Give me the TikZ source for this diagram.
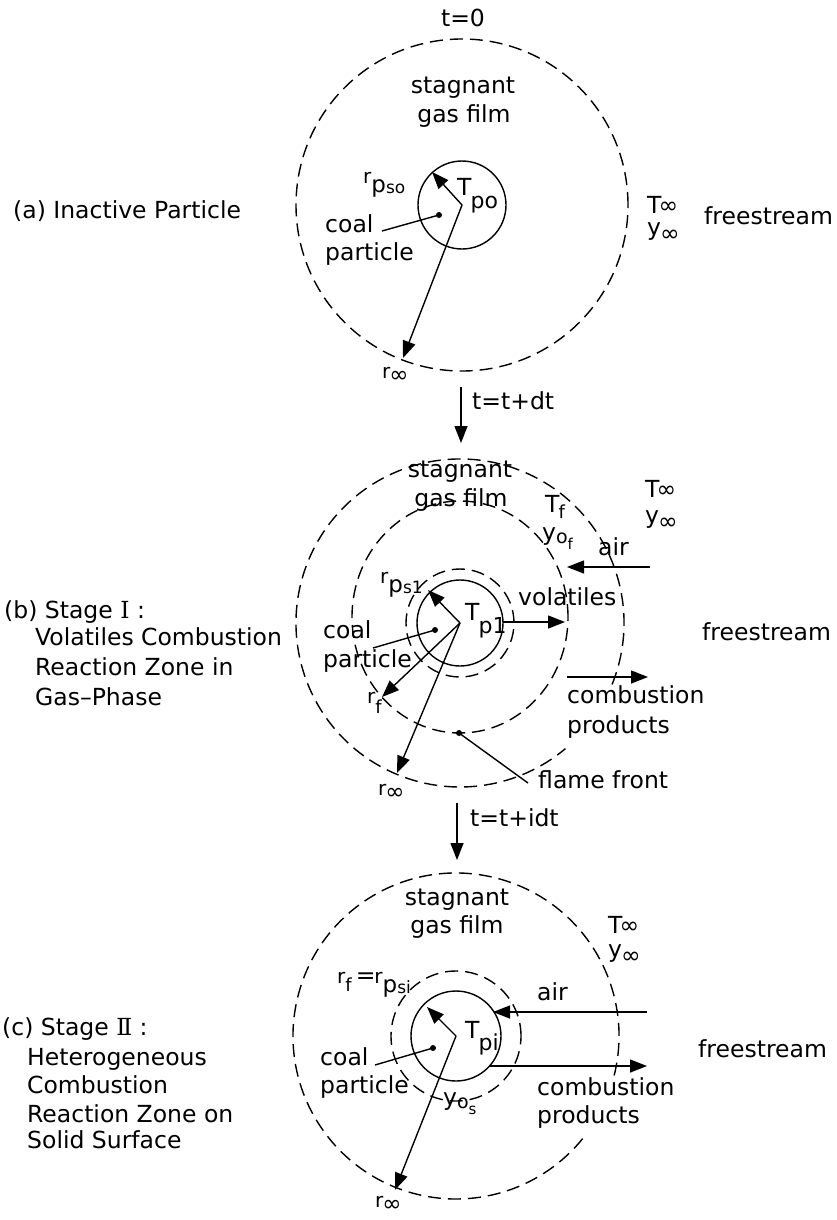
\documentclass[tikz,border=0pt]{standalone}
\usepackage{fontspec}
\setmainfont{DejaVu Sans}
\newfontfamily\romnum{DejaVu Serif}
\usetikzlibrary{arrows.meta,calc}

\newcommand\SZ{\fontsize{23.5}{28}\selectfont}
\newcommand\fs[1]{\fontsize{#1}{#1}\selectfont}
\newcommand\dn[3]{\raisebox{-#1pt}{\fs{#2}#3}}
\newcommand\Tinf{T\kern-3pt∞}
\newcommand\yinf{y\kern-1pt\dn{6}{23.5}{∞}}
\newcommand\rinf{{\fs{20}r}\kern-1pt\dn{4}{23}{∞}}

\tikzset{
  lbl/.style={font=\SZ, inner sep=0pt, anchor=base west},
  lblc/.style={font=\SZ, inner sep=0pt, anchor=base},
  solidc/.style={line width=1.4pt},
  dashc/.style={line width=1.4pt, dash pattern=on 13pt off 7pt},
  arr/.style={line width=1.4pt, -{Triangle[length=17pt,width=13pt]}},
  ptr/.style={line width=1.4pt},
  dotc/.style={circle, fill, inner sep=0pt, minimum size=6pt},
}

\begin{document}
\begin{tikzpicture}[x=1pt,y=-1pt]
\useasboundingbox (0,0) rectangle (837,1220);

%%%%%%%%%%%%%%%% (a) %%%%%%%%%%%%%%%%
\coordinate (A) at (462,205);
\draw[dashc] (A) circle[radius=166pt];
\draw[solidc] (A) circle[radius=44pt];
\coordinate (Arptip) at (432,172);
\coordinate (Aritip) at (403,358);
\draw[arr] (A) -- (Arptip);
\draw[arr] (A) -- (Aritip);
\node[dotc] (Adot) at (439,215) {};
\coordinate (Acoalend) at (382,231);
\draw[ptr] (Acoalend) -- (Adot.center);

\node[lblc] (At0) at (463,27) {t=0};
\node[lblc] (Astag) at (463,94) {stagnant};
\node[lblc] (Agas) at (464,123) {gas film};
\node[lbl] (Arp) at (363,183) {{\fs{20}r}\dn{9}{23}{p\dn{1}{17}{so}}};
\node[lbl] (ATp) at (457,195) {T\kern-1pt\dn{13}{22}{po}};
\node[lbl] (Acoal) at (325,232) {coal};
\node[lbl] (Apart) at (325,260) {particle};
\node[lbl] (ATi) at (647,213) {\Tinf};
\node[lbl] (Ayi) at (647,235) {\yinf};
\node[lbl] (Afree) at (704,224) {freestream};
\node[lbl] (Ari) at (382,378) {\rinf};
\node[lbl] (Alab) at (13,218) {(a) Inactive Particle};

% time arrow 1
\coordinate (ab1) at (461,387);
\coordinate (ab2) at (461,443);
\draw[arr] (ab1) -- (ab2);
\node[lbl] (Adt) at (472,409) {t=t+dt};

%%%%%%%%%%%%%%%% (b) %%%%%%%%%%%%%%%%
\coordinate (B) at (460,623);
\coordinate (Bf) at (460,617);
\draw[dashc] ($(B)+(-22:164pt)$) arc[start angle=-22, end angle=310, radius=164pt];
\draw[dashc] (Bf) ellipse[x radius=108pt, y radius=116pt];
\draw[dashc] (B) circle[radius=54pt];
\draw[solidc] (B) circle[radius=43pt];
\coordinate (Brptip) at (428,590);
\coordinate (Brftip) at (382,697);
\coordinate (Britip) at (397,773);
\draw[arr] (B) -- (Brptip);
\draw[arr] (B) -- (Brftip);
\draw[arr] (B) -- (Britip);
\node[dotc] (Bdot) at (435,630) {};
\coordinate (Bcoalend) at (373,648);
\draw[ptr] (Bcoalend) -- (Bdot.center);
\node[dotc] (Bffdot) at (459,733) {};
\coordinate (Bffend) at (528,783);
\draw[ptr] (Bffdot.center) -- (Bffend);
% flows
\coordinate (Bv1) at (503,622);
\coordinate (Bv2) at (565,622);
\draw[arr] (Bv1) -- (Bv2);
\coordinate (Ba1) at (650,567);
\coordinate (Ba2) at (567,567);
\draw[arr] (Ba1) -- (Ba2);
\coordinate (Bc1) at (567,677);
\coordinate (Bc2) at (648,677);
\draw[arr] (Bc1) -- (Bc2);

\node[lblc] (Bstag) at (460,477) {stagnant};
\node[lblc] (Bgas) at (461,506) {gas film};
\node[lbl] (BTf) at (545,512) {T\kern-1pt\dn{6}{18}{f}};
\node[lbl] (Byof) at (542,540) {y\dn{3}{19}{o\dn{6}{15}{f}}};
\node[lbl] (Bair) at (598,555) {air};
\node[lbl] (BTi) at (645,497) {\Tinf};
\node[lbl] (Byi) at (645,523) {\yinf};
\node[lbl] (Brp) at (380,583) {{\fs{20}r}\dn{9}{23}{p\dn{1}{17}{s1}}};
\node[lbl] (BTp) at (465,620) {T\kern-1pt\dn{13}{22}{p1}};
\node[lbl] (Bcoal) at (323,638) {coal};
\node[lbl] (Bpart) at (323,667) {particle};
\node[lbl] (Bvol) at (518,605) {volatiles};
\node[lbl] (Brf) at (367,703) {{\fs{20}r}\dn{10}{18}{f}};
\node[lbl] (Bri) at (378,795) {\rinf};
\node[lbl] (Bcomb) at (567,703) {combustion};
\node[lbl] (Bprod) at (567,733) {products};
\node[lbl] (Bff) at (538,788) {flame front};
\node[lbl] (Bfree) at (702,640) {freestream};
\node[lbl] (Blab1) at (4,618) {(b) Stage {\romnum Ⅰ} :};
\node[lbl] (Blab2) at (35,645) {Volatiles Combustion};
\node[lbl] (Blab3) at (35,675) {Reaction Zone in};
\node[lbl] (Blab4) at (35,705) {Gas–Phase};

% time arrow 2
\coordinate (bc1) at (457,803);
\coordinate (bc2) at (457,860);
\draw[arr] (bc1) -- (bc2);
\node[lbl] (Bidt) at (470,826) {t=t+idt};

%%%%%%%%%%%%%%%% (c) %%%%%%%%%%%%%%%%
\coordinate (C) at (456,1036);
\draw[dashc] ($(C)+(-14:163pt)$) arc[start angle=-14, end angle=321, radius=163pt];
\draw[dashc] (C) circle[radius=65pt];
\draw[solidc] (C) circle[radius=45pt];
\coordinate (Crptip) at (427,1007);
\coordinate (Critip) at (395,1190);
\draw[arr] (C) -- (Crptip);
\draw[arr] (C) -- (Critip);
\node[dotc] (Cdot) at (433,1048) {};
\coordinate (Ccoalend) at (375,1065);
\draw[ptr] (Ccoalend) -- (Cdot.center);
\coordinate (Ca1) at (647,1012);
\coordinate (Ca2) at (493,1012);
\draw[arr] (Ca1) -- (Ca2);
\coordinate (Cc1) at (490,1066);
\coordinate (Cc2) at (647,1066);
\draw[arr] (Cc1) -- (Cc2);

\node[lblc] (Cstag) at (457,905) {stagnant};
\node[lblc] (Cgas) at (457,933) {gas film};
\node[lbl] (CTi) at (608,933) {\Tinf};
\node[lbl] (Cyi) at (608,957) {\yinf};
\node[lbl] (Crfp) at (337,983) {{\fs{20}r}\dn{8}{18}{f}\kern4pt=\kern-1pt{\fs{20}r}\dn{9}{23}{p\dn{1}{17}{si}}};
\node[lbl] (Cair) at (537,1000) {air};
\node[lbl] (CTp) at (465,1038) {T\kern-1pt\dn{12}{22}{pi}};
\node[lbl] (Ccoal) at (320,1065) {coal};
\node[lbl] (Cpart) at (320,1093) {particle};
\node[lbl] (Cyos) at (443,1105) {y\dn{3}{19}{o\dn{6}{15}{s}}};
\node[lbl] (Ccomb) at (537,1095) {combustion};
\node[lbl] (Cprod) at (537,1123) {products};
\node[lbl] (Cri) at (375,1207) {\rinf};
\node[lbl] (Cfree) at (698,1057) {freestream};
\node[lbl] (Clab1) at (2,1035) {(c) Stage {\romnum Ⅱ} :};
\node[lbl] (Clab2) at (27,1065) {Heterogeneous};
\node[lbl] (Clab3) at (27,1093) {Combustion};
\node[lbl] (Clab4) at (27,1122) {Reaction Zone on};
\node[lbl] (Clab5) at (27,1148) {Solid Surface};
\end{tikzpicture}
\end{document}
